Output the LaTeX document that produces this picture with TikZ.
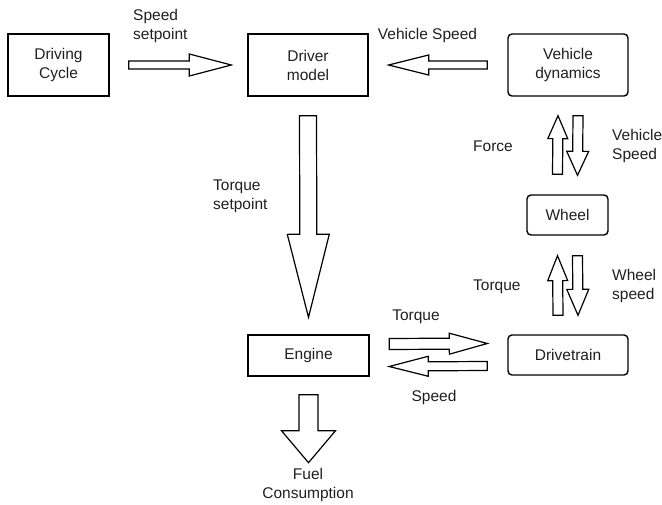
\documentclass[tikz,border=0pt]{standalone}
\usepackage{fontspec}
\setmainfont{Liberation Sans}
\usetikzlibrary{calc}
\newcommand\blockarrow[5]{% start, end, shaft half, head half, head length
  \draw[barrow] ($(#1)!#3!90:(#2)$)
    -- ($(#2)!#5!(#1)!#3!-90:(#1)$)
    -- ($(#2)!#5!(#1)!#4!-90:(#1)$)
    -- (#2)
    -- ($(#2)!#5!(#1)!#4!90:(#1)$)
    -- ($(#2)!#5!(#1)!#3!90:(#1)$)
    -- ($(#1)!#3!-90:(#2)$) -- cycle;}
\tikzset{
  txt/.style={font=\fontsize{15.5}{19}\selectfont, text=black!88, inner sep=0pt},
  sbox/.style={txt, draw, line width=1.4pt, align=center},
  rbox/.style={sbox, rounded corners=4pt},
  lbl/.style={txt, align=left},
  clbl/.style={txt, align=center},
  barrow/.style={draw, line width=1.2pt, fill=white, line join=miter},
}
\begin{document}
\begin{tikzpicture}[x=1pt,y=-1pt]
\useasboundingbox (0,0) rectangle (662,505);
% boxes
\node[sbox, minimum width=101pt, minimum height=62pt] (dc) at (58.5,65) {Driving\\Cycle};
\node[sbox, minimum width=120pt, minimum height=62pt] (dm) at (308,65) {Driver\\model};
\node[rbox, minimum width=120pt, minimum height=62pt] (vd) at (568,65) {Vehicle\\dynamics};
\node[rbox, minimum width=81pt, minimum height=40pt] (wh) at (567.5,215) {Wheel};
\node[rbox, minimum width=120pt, minimum height=40pt] (dt) at (568,355) {Drivetrain};
\node[sbox, minimum width=121pt, minimum height=41pt] (en) at (308.5,355.5) {Engine};
% arrow end points
\coordinate (a1s) at ($(dc.east)+(19,0)$);
\coordinate (a1e) at ($(dm.west)+(-16,0)$);
\coordinate (a2s) at ($(vd.west)+(-20,0)$);
\coordinate (a2e) at ($(dm.east)+(20,0)$);
\coordinate (a3s) at ($(dm.south)+(0,19)$);
\coordinate (a3e) at ($(en.north)+(0,-17)$);
\coordinate (a4s) at ($(wh.north)+(-10,-20)$);
\coordinate (a4e) at ($(vd.south)+(-10,19)$);
\coordinate (a5s) at ($(vd.south)+(10,19)$);
\coordinate (a5e) at ($(wh.north)+(10,-19)$);
\coordinate (a6s) at ($(dt.north)+(-10,-19)$);
\coordinate (a6e) at ($(wh.south)+(-10,20)$);
\coordinate (a7s) at ($(wh.south)+(10,20)$);
\coordinate (a7e) at ($(dt.north)+(10,-19)$);
\coordinate (a8s) at ($(en.east)+(19.5,-11.5)$);
\coordinate (a8e) at ($(dt.west)+(-20,-11.5)$);
\coordinate (a9s) at ($(dt.west)+(-20,11)$);
\coordinate (a9e) at ($(en.east)+(19.5,11)$);
\coordinate (a10s) at ($(en.south)+(0,18)$);
\coordinate (a10e) at ($(en.south)+(0,86)$);
% block arrows
\blockarrow{a1s}{a1e}{4pt}{11pt}{42pt}
\blockarrow{a2s}{a2e}{4pt}{10pt}{40pt}
\blockarrow{a3s}{a3e}{8.5pt}{21pt}{83pt}
\blockarrow{a4s}{a4e}{5pt}{10pt}{23pt}
\blockarrow{a5s}{a5e}{5pt}{11pt}{24pt}
\blockarrow{a6s}{a6e}{5pt}{10pt}{25pt}
\blockarrow{a7s}{a7e}{5pt}{11pt}{26pt}
\blockarrow{a8s}{a8e}{5.5pt}{10.5pt}{38pt}
\blockarrow{a9s}{a9e}{4.5pt}{10pt}{39pt}
\blockarrow{a10s}{a10e}{9.5pt}{27pt}{32pt}
% labels
\node[lbl, anchor=west] (l1) at (133,26) {Speed\\setpoint};
\node[clbl] (l2) at (427.5,35) {Vehicle Speed};
\node[lbl, anchor=west] (l3) at (213,196) {Torque\\setpoint};
\node[lbl, anchor=west] (l4) at (473,146) {Force};
\node[lbl, anchor=west] (l5) at (612,146) {Vehicle\\Speed};
\node[lbl, anchor=west] (l6) at (473,287) {Torque};
\node[lbl, anchor=west] (l7) at (612,286) {Wheel\\speed};
\node[clbl] (l8) at (416,317) {Torque};
\node[clbl] (l9) at (434,397) {Speed};
\node[clbl] (l10) at (308,485) {Fuel\\Consumption};
\end{tikzpicture}
\end{document}
